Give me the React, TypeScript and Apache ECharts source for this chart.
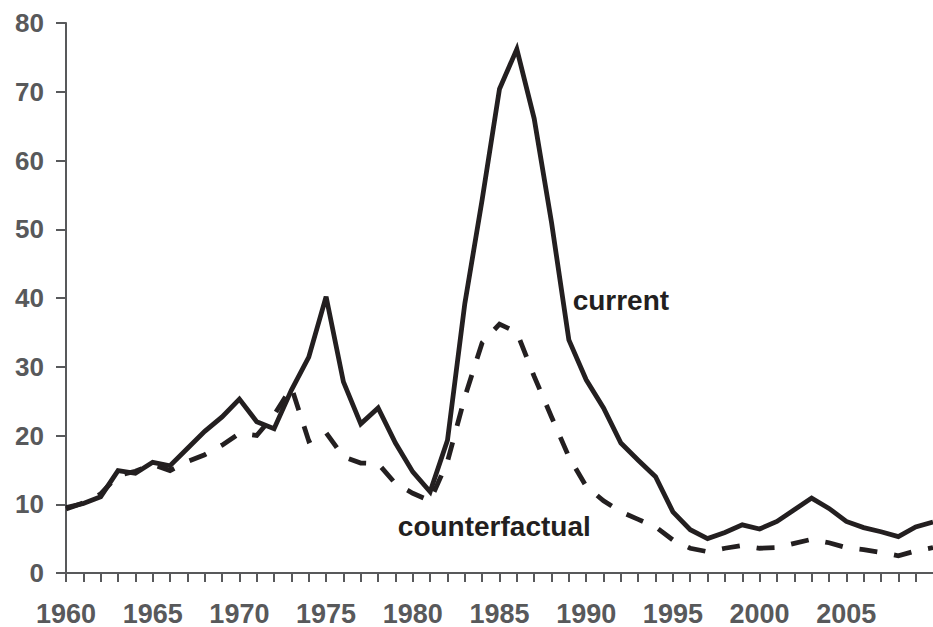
import React, { useEffect, useRef } from "react";
import * as echarts from "echarts";

const years: number[] = [];
for (let y = 1960; y <= 2010; y++) years.push(y);

const currentValues = [
  9.5, 10.1, 11.1, 14.9, 14.5, 16.1, 15.6, 18.1, 20.6, 22.7,
  25.3, 22.0, 21.0, 26.6, 31.4, 40.2, 27.8, 21.7, 24.0, 18.9,
  14.7, 11.8, 19.3, 39.2, 54.3, 70.4, 76.2, 66.1, 51.0, 33.9,
  28.1, 24.0, 18.9, 16.4, 14.0, 8.9, 6.3, 5.0, 5.9, 7.0,
  6.4, 7.5, 9.2, 10.9, 9.4, 7.5, 6.6, 6.0, 5.3, 6.7,
  7.4,
];

const counterfactualValues = [
  9.3, 10.2, 11.5, 14.2, 14.8, 15.8, 14.9, 16.2, 17.2, 18.6,
  20.3, 20.0, 23.0, 27.0, 19.2, 20.4, 16.9, 16.0, 15.9, 13.0,
  11.6, 10.5, 16.2, 25.6, 33.5, 36.2, 35.0, 28.6, 22.7, 16.9,
  12.6, 10.5, 8.9, 7.8, 6.7, 4.8, 3.6, 3.1, 3.6, 4.0,
  3.6, 3.7, 4.3, 4.9, 4.4, 3.7, 3.4, 3.0, 2.5, 3.2,
  3.7,
];

const xLabelYears = [1960, 1965, 1970, 1975, 1980, 1985, 1990, 1995, 2000, 2005];
const yTicks = [0, 10, 20, 30, 40, 50, 60, 70, 80];

const currentLabel = { text: "current", coord: [1992.0, 39.7] };
const counterfactualLabel = { text: "counterfactual", coord: [1984.7, 6.7] };

const FONT = "'Liberation Sans', Arial, Helvetica, sans-serif";
const AXIS_COLOR = "#58595b";
const LINE_COLOR = "#231f20";

export default function App() {
  const ref = useRef<HTMLDivElement>(null);
  useEffect(() => {
    if (!ref.current) return;
    const chart = echarts.init(ref.current, undefined, { renderer: "svg" });
    const labelPoint = (l: { text: string; coord: number[] }) => ({
      data: [
        {
          coord: l.coord,
          symbol: "circle",
          symbolSize: 0,
          label: {
            show: true,
            position: "inside",
            formatter: l.text,
            color: LINE_COLOR,
            fontSize: 28,
            fontWeight: "bold",
            fontFamily: FONT,
          },
        },
      ],
      silent: true,
      animation: false,
    });
    chart.setOption({
      animation: false,
      backgroundColor: "#ffffff",
      grid: { left: 66, right: -7, top: 23, bottom: 54, containLabel: false },
      xAxis: {
        type: "value",
        min: 1960,
        max: 2010,
        interval: 1,
        axisLine: { show: true, onZero: false, lineStyle: { color: AXIS_COLOR, width: 2 } },
        axisTick: { show: true, inside: false, length: 9, lineStyle: { color: AXIS_COLOR, width: 2 } },
        splitLine: { show: false },
        axisLabel: {
          show: true,
          margin: 27,
          color: AXIS_COLOR,
          fontSize: 27,
          fontWeight: "bold",
          fontFamily: FONT,
          showMaxLabel: false,
          formatter: (v: number) => (xLabelYears.includes(Math.round(v)) && Math.abs(v - Math.round(v)) < 1e-6 ? String(Math.round(v)) : ""),
        },
      },
      yAxis: {
        type: "value",
        min: 0,
        max: 80,
        interval: 10,
        axisLine: { show: true, lineStyle: { color: AXIS_COLOR, width: 2 } },
        axisTick: { show: true, length: 10, lineStyle: { color: AXIS_COLOR, width: 2 } },
        splitLine: { show: false },
        axisLabel: {
          show: true,
          margin: 22,
          color: AXIS_COLOR,
          fontSize: 26,
          fontWeight: "bold",
          fontFamily: FONT,
          formatter: (v: number) => (yTicks.includes(v) ? String(v) : ""),
        },
      },
      series: [
        {
          name: "counterfactual",
          type: "line",
          data: years.map((y, i) => [y, counterfactualValues[i]]),
          showSymbol: false,
          symbol: "none",
          clip: true,
          lineStyle: { color: LINE_COLOR, width: 4.8, type: [18, 17], cap: "butt", join: "miter" },
          markPoint: labelPoint(counterfactualLabel),
        },
        {
          name: "current",
          type: "line",
          data: years.map((y, i) => [y, currentValues[i]]),
          showSymbol: false,
          symbol: "none",
          clip: true,
          lineStyle: { color: LINE_COLOR, width: 4.8, type: "solid", cap: "butt", join: "miter" },
          markPoint: labelPoint(currentLabel),
        },
      ],
    });
    return () => chart.dispose();
  }, []);
  return (
    <div
      ref={ref}
      style={{ position: "fixed", left: 0, top: 0, width: 933, height: 627, background: "#fff" }}
    />
  );
}
